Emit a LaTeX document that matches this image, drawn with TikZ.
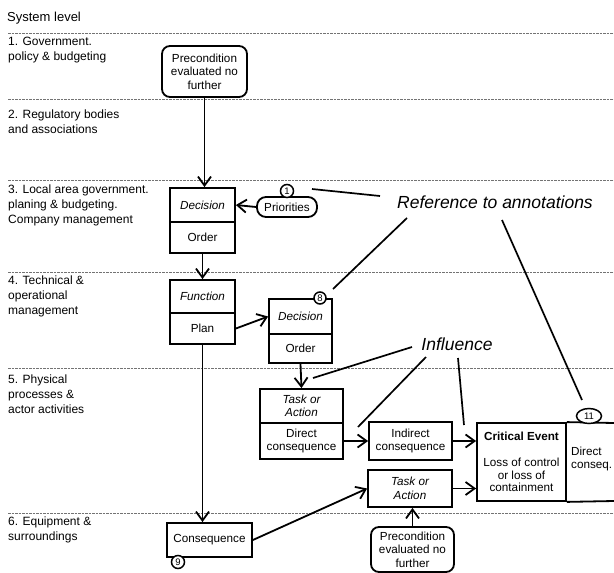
\documentclass[tikz,border=0pt]{standalone}
\usepackage{fontspec}
\setmainfont{Liberation Sans}
\usetikzlibrary{arrows.meta,shapes.geometric}
\begin{document}
\begin{tikzpicture}[x=1pt,y=-1pt,
  box/.style={draw,line width=1.8pt,fill=white,inner sep=1pt,align=center,font=\fontsize{11.7}{13.5}\selectfont},
  rbox/.style={box,rounded corners=8pt},
  ital/.style={font=\fontsize{11.7}{13.5}\selectfont\itshape},
  ann/.style={circle,draw,line width=1.5pt,fill=white,inner sep=0pt,minimum size=13pt,font=\fontsize{9.5}{10}\selectfont},
  lvl/.style={anchor=west,align=left,inner sep=0pt,font=\fontsize{12}{15}\selectfont},
  big/.style={font=\fontsize{17.5}{20}\selectfont\itshape,inner sep=0pt},
  sep/.style={black!55,line width=1pt,dash pattern=on 2.5pt off 1pt},
  arr/.style={line width=1.8pt,-{Straight Barb[length=9pt,width=13pt]}},
  note/.style={line width=1.7pt}
]
\useasboundingbox (0,0) rectangle (614,573);

% level separators
\foreach \yy in {33,99,180,272,368,513} \draw[sep] (8,\yy) -- (614,\yy);

% level labels
\node[anchor=west,inner sep=0pt,font=\fontsize{13}{15}\selectfont] (sys) at (7,18) {System level};
\node[lvl] (l1) at (8,50.5) {1. Government.\\policy \& budgeting};
\node[lvl] (l2) at (8,121.5) {2. Regulatory bodies\\and associations};
\node[lvl] (l3) at (8,205) {3. Local area government.\\planing \& budgeting.\\Company management};
\node[lvl] (l4) at (8,296.5) {4. Technical \&\\operational\\management};
\node[lvl] (l5) at (8,394) {5. Physical\\processes \&\\actor activities};
\node[lvl] (l6) at (8,529.5) {6. Equipment \&\\surroundings};

% nodes
\node[rbox,minimum width=85pt,minimum height=51pt] (pre1) at (204.5,71.5) {Precondition\\evaluated no\\further};
\node[box,ital,minimum width=65pt,minimum height=34pt] (dec1) at (202.5,205) {Decision};
\node[box,minimum width=65pt,minimum height=31pt] (ord1) at (202.5,237.5) {Order};
\node[box,rounded corners=9pt,minimum width=60pt,minimum height=20pt] (prio) at (287,207) {Priorities};
\node[ann] (c1) at (287,191) {1};
\node[box,ital,minimum width=65pt,minimum height=33pt] (fun1) at (202.5,296.5) {Function};
\node[box,minimum width=65pt,minimum height=31pt] (plan) at (202.5,328.5) {Plan};
\node[box,ital,minimum width=63pt,minimum height=35pt] (dec2) at (300.5,316.5) {Decision};
\node[box,minimum width=63pt,minimum height=29pt] (ord2) at (300.5,348.5) {Order};
\node[ann,minimum size=12pt] (c8) at (320,298) {8};
\node[box,ital,minimum width=83pt,minimum height=34pt] (task1) at (301.5,406) {Task or\\Action};
\node[box,minimum width=83pt,minimum height=36pt] (dcons) at (301.5,441) {Direct\\consequence};
\node[box,minimum width=83pt,minimum height=38pt] (indc) at (410.5,441) {Indirect\\consequence};
\node[box,ital,minimum width=84pt,minimum height=37pt] (task2) at (410,488.5) {Task or\\Action};
\node[rbox,minimum width=83pt,minimum height=45pt] (pre2) at (412.5,549.5) {Precondition\\evaluated no\\further};
\node[box,minimum width=85pt,minimum height=34pt] (conseq) at (209.5,540) {Consequence};
\node[ann] (c9) at (178,562) {9};
\node[box,minimum width=89pt,minimum height=78pt,font=\fontsize{11.7}{12.5}\selectfont] (crit) at (521.5,462) {\textbf{Critical Event}\\[14pt]Loss of control\\or loss of\\containment};
\draw[line width=1.8pt] (crit.north east) -- (614,423);
\draw[line width=1.8pt] (crit.south east) -- (614,501);
\node[anchor=west,align=left,inner sep=0pt,font=\fontsize{11.7}{13.5}\selectfont] (dir) at (571,459) {Direct\\conseq.};
\node[ellipse,draw,line width=1.5pt,fill=white,minimum width=25pt,minimum height=15pt,inner sep=0pt,font=\fontsize{9.5}{10}\selectfont] (c11) at (589,416) {11};

% connectors
\draw[arr] (pre1.south) -- (pre1.south |- dec1.north);
\draw[arr] (prio.west) -- (dec1.east);
\draw[arr] (ord1.south) -- (fun1.north);
\draw[arr] (plan.east) -- (dec2.west);
\draw[arr] (ord2.south) -- (task1.north);
\draw[arr] (plan.south) -- (plan.south |- conseq.north);
\draw[arr] (conseq.east) -- (task2.west);
\draw[arr] (pre2.north) -- (pre2.north |- task2.south);
\draw[arr] (dcons.east) -- (indc.west);
\draw[arr] (indc.east) -- (crit.west |- indc.east);
\draw[arr] (task2.east) -- (crit.west |- task2.east);

% annotation texts
\node[big] (ref) at (495,202) {Reference to annotations};
\node[big] (infl) at (457,344) {Influence};

\coordinate (r1a) at (380,196); \coordinate (r1b) at (312,189);
\coordinate (r8a) at (407,218); \coordinate (r8b) at (333,289);
\coordinate (r11a) at (502,220); \coordinate (r11b) at (582,400);
\coordinate (i1a) at (412,347); \coordinate (i1b) at (313,378);
\coordinate (i2a) at (426,357); \coordinate (i2b) at (358,427);
\coordinate (i3a) at (458,358); \coordinate (i3b) at (464,425);
\draw[note] (r1a) -- (r1b);
\draw[note] (r8a) -- (r8b);
\draw[note] (r11a) -- (r11b);
\draw[note] (i1a) -- (i1b);
\draw[note] (i2a) -- (i2b);
\draw[note] (i3a) -- (i3b);
\end{tikzpicture}
\end{document}
